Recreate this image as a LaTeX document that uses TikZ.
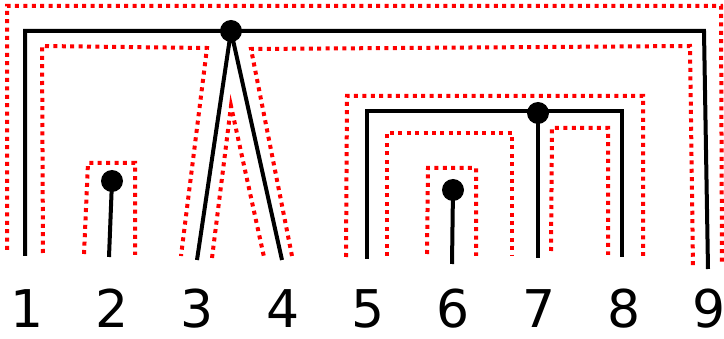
\documentclass[tikz,border=0pt]{standalone}
\usepackage{fontspec}
\setmainfont{DejaVu Sans}

\begin{document}
\begin{tikzpicture}[x=1pt,y=-1pt,
  arc/.style={line width=4pt},
  loop/.style={red,line width=4pt,dash pattern=on 4pt off 4.4pt},
  joint/.style={circle,fill,inner sep=0pt,minimum size=22pt},
  num/.style={anchor=base,font=\fontsize{52}{52}\selectfont}]
  \useasboundingbox (0,0) rectangle (724,339);
  % black tree
  \coordinate (a1) at (25,256); \coordinate (c1) at (25,31); \coordinate (c9) at (704,31); \coordinate (a9) at (708,269);
  \coordinate (a2) at (109,257); \coordinate (a3) at (197,260); \coordinate (a4) at (282,260);
  \coordinate (a5) at (367,259); \coordinate (c5) at (367,111); \coordinate (c8) at (622,111); \coordinate (a8) at (622,257);
  \coordinate (a6) at (452,264); \coordinate (a7) at (538,258);
  \node[joint] (r) at (231,31) {}; \node[joint] (d2) at (112,181) {};
  \node[joint] (d6) at (453,190) {}; \node[joint] (d7) at (538,113) {};
  \draw[arc] (a1)--(c1)--(c9)--(a9); \draw[arc] (a3)--(r.center)--(a4);
  \draw[arc] (d2.center)--(a2); \draw[arc] (a5)--(c5)--(c8)--(a8);
  \draw[arc] (d6.center)--(a6); \draw[arc] (d7.center)--(a7);
  % red contour
  \draw[loop] (7,250)--(7,6)--(721,6)--(722,263);
  \draw[loop] (43,253)--(42,46)--(207,48)--(181,256);
  \draw[loop] (212,258)--(231,106)--(264,257);
  \draw[loop] (292,256)--(251,49)--(690,46)--(693,266);
  \draw[loop] (84,254)--(88,163)--(135,163)--(135,255);
  \draw[loop] (346,257)--(347,96)--(643,96)--(643,256);
  \draw[loop] (387,256)--(387,133)--(512,133)--(512,256);
  \draw[loop] (427,254)--(428,168)--(476,168)--(476,256);
  \draw[loop] (551,251)--(552,128)--(608,128)--(608,255);
  % leaves
  \foreach \i/\x in {1/27,2/112,3/197,4/283,5/368,6/453,7/539,8/624,9/709}
    \node[num] (l\i) at (\x,328) {\i};
\end{tikzpicture}
\end{document}
